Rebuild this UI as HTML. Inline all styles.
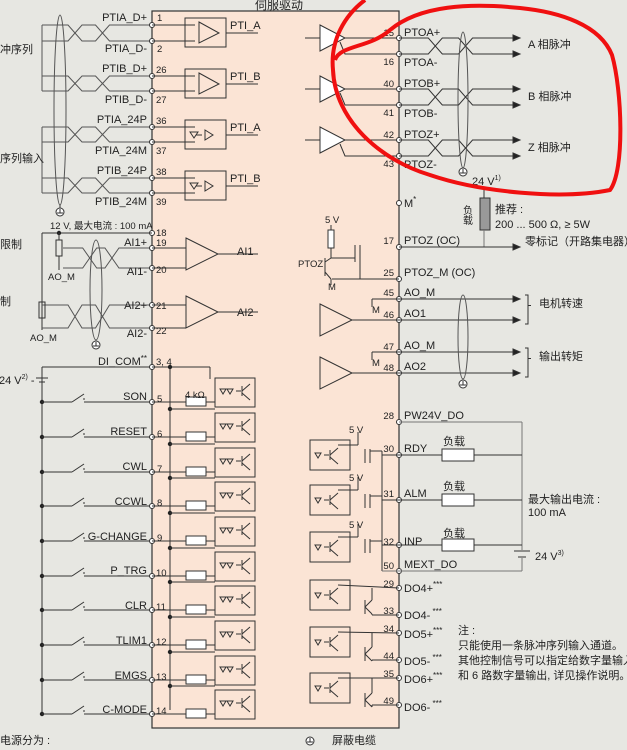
<!DOCTYPE html>
<html><head><meta charset="utf-8"><style>
html,body{margin:0;padding:0;background:#e7e7e2;}
svg{display:block;font-family:"Liberation Sans","Noto Sans CJK SC",sans-serif;}
text{font-size:11px;fill:#222;}
.s{font-size:9.5px;}
.r{text-anchor:end;}
</style></head><body>
<svg id="g" width="627" height="750" viewBox="0 0 627 750" xmlns="http://www.w3.org/2000/svg">
<rect x="0" y="0" width="627" height="750" fill="#e7e7e2"/>
<rect x="152" y="11" width="247" height="717" fill="#fbe4d5" stroke="#333" stroke-width="1.2"/>
<text x="255" y="9" style="font-size:12px">伺服驱动</text>
<g id="shapes" stroke="#333" stroke-width="1" fill="none"></g>

<!-- left top labels -->
<text class="r" x="147" y="21">PTIA_D+</text><text class="r" x="147" y="52">PTIA_D-</text>
<text class="r" x="147" y="72">PTIB_D+</text><text class="r" x="147" y="103">PTIB_D-</text>
<text class="r" x="147" y="123">PTIA_24P</text><text class="r" x="147" y="154">PTIA_24M</text>
<text class="r" x="147" y="174">PTIB_24P</text><text class="r" x="147" y="205">PTIB_24M</text>
<text class="s" x="157" y="21">1</text><text class="s" x="157" y="52">2</text>
<text class="s" x="156" y="73">26</text><text class="s" x="156" y="103">27</text>
<text class="s" x="156" y="124">36</text><text class="s" x="156" y="154">37</text>
<text class="s" x="156" y="175">38</text><text class="s" x="156" y="205">39</text>
<text x="0" y="53">冲序列</text><text x="0" y="162">序列输入</text>
<text x="230" y="29">PTI_A</text><text x="230" y="80">PTI_B</text><text x="230" y="131">PTI_A</text><text x="230" y="182">PTI_B</text>
<text class="s" x="50" y="229">12 V, 最大电流 : 100 mA</text>
<text class="s" x="156" y="236">18</text>
<text class="r" x="147" y="246">AI1+</text><text class="s" x="156" y="246">19</text>
<text class="r" x="147" y="275">AI1-</text><text class="s" x="156" y="273">20</text>
<text class="r" x="147" y="309">AI2+</text><text class="s" x="156" y="309">21</text>
<text class="r" x="147" y="337">AI2-</text><text class="s" x="156" y="334">22</text>
<text x="237" y="255">AI1</text><text x="237" y="316">AI2</text>
<text x="0" y="248">限制</text><text x="0" y="305">制</text>
<text class="s" x="48" y="280">AO_M</text><text class="s" x="30" y="341">AO_M</text>
<text x="-1" y="384">24 V<tspan dy="-5" style="font-size:7px">2)</tspan><tspan dy="5"> -</tspan></text>
<text class="r" x="147" y="365">DI_COM<tspan dy="-4" style="font-size:8px">**</tspan></text>
<text class="s" x="156" y="365">3, 4</text>
<text class="s" x="185" y="398">4 kΩ</text>
<text class="r" x="147" y="400">SON</text><text class="r" x="147" y="435">RESET</text><text class="r" x="147" y="470">CWL</text>
<text class="r" x="147" y="505">CCWL</text><text class="r" x="147" y="540">G-CHANGE</text><text class="r" x="147" y="574">P_TRG</text>
<text class="r" x="147" y="609">CLR</text><text class="r" x="147" y="644">TLIM1</text><text class="r" x="147" y="679">EMGS</text><text class="r" x="147" y="713">C-MODE</text>
<text class="s" x="157" y="402">5</text><text class="s" x="157" y="437">6</text><text class="s" x="157" y="472">7</text>
<text class="s" x="157" y="506">8</text><text class="s" x="157" y="541">9</text><text class="s" x="156" y="576">10</text>
<text class="s" x="156" y="610">11</text><text class="s" x="156" y="645">12</text><text class="s" x="156" y="680">13</text><text class="s" x="156" y="714">14</text>
<text x="0" y="744">电源分为 :</text>
<text x="332" y="744">屏蔽电缆</text>

<!-- right labels -->
<text class="s r" x="394" y="36">15</text><text x="404" y="36">PTOA+</text>
<text class="s r" x="394" y="65">16</text><text x="404" y="66">PTOA-</text>
<text class="s r" x="394" y="87">40</text><text x="404" y="87">PTOB+</text>
<text class="s r" x="394" y="116">41</text><text x="404" y="117">PTOB-</text>
<text class="s r" x="394" y="138">42</text><text x="404" y="138">PTOZ+</text>
<text class="s r" x="394" y="167">43</text><text x="404" y="168">PTOZ-</text>
<text x="528" y="48">A 相脉冲</text><text x="528" y="100">B 相脉冲</text><text x="528" y="151">Z 相脉冲</text>
<text x="472" y="185">24 V<tspan dy="-5" style="font-size:7px">1)</tspan></text>
<text x="404" y="207">M<tspan dy="-5" style="font-size:8px">*</tspan></text>
<text x="495" y="213">推荐 :</text><text x="495" y="228">200 ... 500 Ω, ≥ 5W</text>
<text x="466" y="205" style="font-size:10px;writing-mode:tb">负载</text>
<text class="s" x="325" y="223">5 V</text>
<text class="s" x="298" y="267">PTOZ</text><text class="s" x="328" y="290">M</text>
<text class="s r" x="394" y="244">17</text><text x="404" y="244">PTOZ (OC)</text>
<text x="525" y="245">零标记（开路集电器）</text>
<text class="s r" x="394" y="276">25</text><text x="404" y="276">PTOZ_M (OC)</text>
<text class="s r" x="394" y="296">45</text><text x="404" y="296">AO_M</text>
<text class="s r" x="394" y="318">46</text><text x="404" y="317">AO1</text>
<text class="s r" x="394" y="350">47</text><text x="404" y="349">AO_M</text>
<text class="s r" x="394" y="371">48</text><text x="404" y="370">AO2</text>
<text class="s" x="372" y="313">M</text><text class="s" x="372" y="366">M</text>
<text x="539" y="307">电机转速</text><text x="539" y="360">输出转矩</text>
<text class="s r" x="394" y="419">28</text><text x="404" y="419">PW24V_DO</text>
<text class="s r" x="394" y="452">30</text><text x="404" y="452">RDY</text>
<text class="s r" x="394" y="497">31</text><text x="404" y="497">ALM</text>
<text class="s r" x="394" y="545">32</text><text x="404" y="545">INP</text>
<text class="s r" x="394" y="569">50</text><text x="404" y="568">MEXT_DO</text>
<text class="s r" x="394" y="587">29</text><text x="404" y="592">DO4+<tspan dy="-5" style="font-size:8px">***</tspan></text>
<text class="s r" x="394" y="614">33</text><text x="404" y="619">DO4-<tspan dy="-5" style="font-size:8px"> ***</tspan></text>
<text class="s r" x="394" y="632">34</text><text x="404" y="638">DO5+<tspan dy="-5" style="font-size:8px">***</tspan></text>
<text class="s r" x="394" y="659">44</text><text x="404" y="665">DO5-<tspan dy="-5" style="font-size:8px"> ***</tspan></text>
<text class="s r" x="394" y="677">35</text><text x="404" y="683">DO6+<tspan dy="-5" style="font-size:8px">***</tspan></text>
<text class="s r" x="394" y="704">49</text><text x="404" y="711">DO6-<tspan dy="-5" style="font-size:8px"> ***</tspan></text>
<text class="s" x="349" y="433">5 V</text><text class="s" x="349" y="481">5 V</text><text class="s" x="349" y="528">5 V</text>
<text x="443" y="445">负载</text><text x="443" y="490">负载</text><text x="443" y="537">负载</text>
<text x="528" y="503">最大输出电流 :</text><text x="528" y="516">100 mA</text>
<text x="535" y="560">24 V<tspan dy="-5" style="font-size:7px">3)</tspan></text>
<text x="458" y="634">注 :</text>
<text x="458" y="649">只能使用一条脉冲序列输入通道。</text>
<text x="458" y="664">其他控制信号可以指定给数字量输入</text>
<text x="458" y="679">和 6 路数字量输出, 详见操作说明。</text>

<path d="M365,0 C345,15 330,40 333,70 C335,120 380,160 430,175 C480,192 560,200 610,190 C625,170 622,90 612,55 C600,25 560,12 520,8 C470,3 420,5 390,30 C370,48 340,45 335,60" stroke="#f01010" stroke-width="4" fill="none"/>
</svg>
<script>
var G=document.getElementById('shapes'),NS='http://www.w3.org/2000/svg';
function e(t,a){var n=document.createElementNS(NS,t);for(var k in a)n.setAttribute(k,a[k]);G.appendChild(n);return n;}
function L(x1,y1,x2,y2,c){e('line',{x1:x1,y1:y1,x2:x2,y2:y2,stroke:c||'#333'});}
function P(d,f,c){e('path',{d:d,fill:f||'none',stroke:c||'#333'});}
function C(x,y){e('circle',{cx:x,cy:y,r:2.5,fill:'#fff',stroke:'#333'});}
function D(x,y){e('circle',{cx:x,cy:y,r:2.2,fill:'#222',stroke:'none'});}
function R(x,y,w,h,f){e('rect',{x:x,y:y,width:w,height:h,fill:f||'#fff',stroke:'#333'});}
function tw(x1,x2,ya,yb,c){ // twisted pair
 var m1=x1+(x2-x1)*0.3,m2=x1+(x2-x1)*0.55;
 P('M'+x1+','+ya+' L'+(m1-7)+','+ya+' L'+(m1+7)+','+yb+' L'+(m2-7)+','+yb+' L'+(m2+7)+','+ya+' L'+x2+','+ya,null,c);
 P('M'+x1+','+yb+' L'+(m1-7)+','+yb+' L'+(m1+7)+','+ya+' L'+(m2-7)+','+ya+' L'+(m2+7)+','+yb+' L'+x2+','+yb,null,c);}
function gnd(x,y){e('circle',{cx:x,cy:y,r:4,fill:'#fff',stroke:'#333'});L(x-3,y+1,x+3,y+1);L(x,y-3,x,y+1);}
function arr(x,y){P('M'+(x-7)+','+(y-3)+' L'+x+','+y+' L'+(x-7)+','+(y+3)+'Z','#222');}
// left pulse inputs
[[25,41],[76,91],[127,142],[178,193]].forEach(function(p,i){
 tw(42,152,p[0],p[1],'#555');C(152,p[0]);C(152,p[1]);
 L(152,p[0],195,p[0]);L(152,p[1],195,p[1]);
 var y0=p[0]-7;R(185,y0,41,29,'none');
 if(i<2){P('M199,'+(y0+4)+' L219,'+(y0+15)+' L199,'+(y0+25)+'Z');}else{P('M205,'+(y0+10)+' L213,'+(y0+15)+' L205,'+(y0+20)+'Z');P('M190,'+(y0+12)+'l4,6l4,-6z M196,'+(y0+15)+'h6');}
 L(226,p[0]+8,258,p[0]+8);});
P('M42,25 v66 M42,127 v66',null,'#555');
e('ellipse',{cx:60,cy:110,rx:6,ry:95,stroke:'#555'});L(60,205,60,208);gnd(60,212);
// AI
C(152,233);L(42,233,152,233);D(59,233);L(42,233,42,330);
tw(63,152,248,268,'#555');tw(42,152,305,328,'#555');
R(56,240,6,16,'none');R(39,302,6,16,'none');L(59,233,59,240);L(59,256,59,270);
[248,268,305,328].forEach(function(y){C(152,y);L(152,y,186,y);});
e('ellipse',{cx:96,cy:290,rx:6,ry:50,stroke:'#555'});gnd(96,345);
P('M186,238 L218,254 L186,270Z');P('M186,296 L218,312 L186,328Z');L(218,254,258,254);L(218,312,258,312);
// DI
L(42,367,152,367);C(152,367);L(152,367,210,367);L(210,367,210,379);L(170,367,170,710);D(170,367);
L(42,367,42,714);L(36,378,48,378);L(39,382,45,382);
var rows=[402,437,472,506,541,576,610,645,680,714];
rows.forEach(function(y,i){
 D(42,y);L(42,y,72,y);L(72,y,84,y-8);L(84,y-4,84,y-2);L(84,y,152,y);C(152,y);
 L(152,y,186,y);R(186,y-5,20,9);L(206,y,215,y);
 R(215,y-24,40,29,'none');if(i>0){D(170,y-28);L(170,y-28,215,y-28);}
 P('M220,'+(y-13)+'l3,5l3,-5z M227,'+(y-13)+'l3,5l3,-5z M236,'+(y-11)+'h5 M242,'+(y-16)+'v10 M242,'+(y-11)+'l8,-7 M242,'+(y-9)+'l8,7');
});
// right PTO drivers
[[38,54],[89,105],[140,156]].forEach(function(p){
 P('M320,'+(p[0]-13)+' L345,'+p[0]+' L320,'+(p[0]+13)+'Z','#fff');L(305,p[0],320,p[0]);
 L(345,p[0],399,p[0]);P('M340,'+(p[0]+4)+' L345,'+p[1]+' L399,'+p[1]);
 C(399,p[0]);C(399,p[1]);tw(399,520,p[0],p[1],'#333');arr(520,p[0]);arr(520,p[1]);});
e('ellipse',{cx:463,cy:100,rx:5,ry:68,stroke:'#555'});gnd(463,172);
// PTOZ OC
C(399,203);L(484,190,484,198);R(480,198,10,32,'#999');L(484,230,484,247,'#777');
C(399,247);L(399,247,520,247);arr(520,247);C(399,279);L(332,279,399,279);
R(328,230,6,18);L(331,225,331,230);L(331,248,331,258);L(331,258,355,258);L(355,245,355,262);
L(360,245,360,279);L(325,262,331,258);L(325,272,331,279);L(325,258,325,276);L(331,279,331,285);
// AO
[[299,320],[352,373]].forEach(function(p){
 C(399,p[0]);C(399,p[1]);L(399,p[0],520,p[0]);L(399,p[1],520,p[1]);arr(520,p[0]);arr(520,p[1]);
 L(372,p[0],399,p[0]);L(372,p[0],372,p[0]+8);
 P('M320,'+(p[0]+5)+' L352,'+(p[0]+21)+' L320,'+(p[0]+37)+'Z','#fbe4d5');L(352,p[1],399,p[1]);
 P('M525,'+(p[0]-4)+' h3 v'+((p[1]-p[0])/2)+' h3 m-3,0 v'+((p[1]-p[0])/2+8)+' h-3');});
e('ellipse',{cx:463,cy:337,rx:5,ry:42,stroke:'#555'});gnd(463,384);
// DO
C(399,422);L(399,422,522,422,'#777');L(522,422,522,550,'#777');
[[455,440],[500,485],[545,532]].forEach(function(p){
 var y=p[0],b=p[1];C(399,y);L(382,y,442,y);R(442,y-6,32,12);L(474,y,522,y);
 R(310,b,40,30,'none');P('M315,'+(b+13)+'l3,5l3,-5z M324,'+(b+15)+'h5 M330,'+(b+10)+'v10 M330,'+(b+15)+'l8,-7 M330,'+(b+17)+'l8,7');
 L(358,b-8,358,b+5);L(338,b+5,358,b+5);L(365,y-6,365,y+8);L(370,y-6,370,y+8);L(370,y-4,382,y-4);L(382,y-4,382,y);
});
L(382,455,382,571);C(399,571);L(382,571,522,571,'#777');L(522,558,522,571,'#777');
L(514,551,530,551);L(518,557,526,557);
[[588,615,580],[633,660,627],[678,705,673]].forEach(function(p){
 C(399,p[0]);C(399,p[1]);R(310,p[2],40,30,'none');
 var b=p[2];P('M315,'+(b+13)+'l3,5l3,-5z M324,'+(b+15)+'h5 M330,'+(b+10)+'v10 M330,'+(b+15)+'l8,-7 M330,'+(b+17)+'l8,7');
 L(338,b+5,399,p[0]);L(365,b+20,365,b+34);L(365,b+27,372,b+20);L(372,b+20,372,p[0]);L(365,b+27,372,b+34);L(372,b+34,372,p[1]);L(372,p[1],399,p[1]);
});
gnd(310,741);
</script>
</body></html>
